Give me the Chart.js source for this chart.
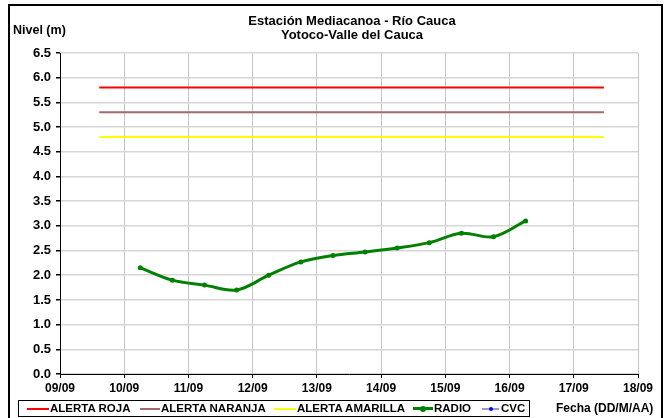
<!DOCTYPE html>
<html>
<head>
<meta charset="utf-8">
<script src="https://cdn.jsdelivr.net/npm/chart.js@4"></script>
<style>
  html, body { margin:0; padding:0; background:#fff; }
  #wrap { position:relative; width:669px; height:418px; overflow:hidden; font-family:"Liberation Sans", Arial, sans-serif; font-weight:bold; color:#000; }
  #c { position:absolute; left:0; top:0; }
  .frame { position:absolute; left:8px; top:4px; width:655px; height:420px; border:2.5px solid #000; box-sizing:border-box; }
  .t { position:absolute; white-space:nowrap; font-size:12px; }
  #legend { position:absolute; left:18px; top:400px; width:512px; height:17px; border:1px solid #000; box-sizing:border-box; background:#fff; }
  .li { position:absolute; top:0; height:15px; line-height:15px; font-size:11.5px; white-space:nowrap; }
  .sw { position:absolute; top:7px; height:2px; }
  .dot { position:absolute; border-radius:50%; }
</style>
</head>
<body>
<div id="wrap">
  <canvas id="c" width="669" height="418"></canvas>
  <div class="frame"></div>
  <div class="t" style="left:0;width:704px;text-align:center;top:13px;font-size:13px;">Estación Mediacanoa - Río Cauca</div>
  <div class="t" style="left:0;width:704px;text-align:center;top:27px;font-size:13px;">Yotoco-Valle del Cauca</div>
  <div class="t" style="left:13px;top:23px;font-size:12.5px;">Nivel (m)</div>
  <div id="legend"></div>
  <div class="t" style="left:556px;top:401px;">Fecha (DD/M/AA)</div>
</div>
<script>
// ---- data ----
const xTickLabels = ['09/09','10/09','11/09','12/09','13/09','14/09','15/09','16/09','17/09','18/09'];
const radioTimes = ['10/09 06:00','10/09 18:00','11/09 06:00','11/09 18:00','12/09 06:00','12/09 18:00','13/09 06:00','13/09 18:00','14/09 06:00','14/09 18:00','15/09 06:00','15/09 18:00','16/09 06:00'];
const radioLevels = [2.15, 1.90, 1.80, 1.70, 2.00, 2.27, 2.40, 2.47, 2.55, 2.66, 2.85, 2.78, 3.10];
const alertTimes = ['09/09 14:40', '17/09 11:15'];
const alertaRoja = 5.8;
const alertaNaranja = 5.3;
const alertaAmarilla = 4.8;
const cvcTimes = [];
const cvcLevels = [];
const seriesNames = ['ALERTA ROJA','ALERTA NARANJA','ALERTA AMARILLA','RADIO','CVC'];

// convert "DD/MM hh:mm" to days after 09/09 00:00
function toDay(s) {
  const [d, t] = s.split(' ');
  const dd = parseInt(d.split('/')[0], 10);
  const [hh, mm] = t.split(':').map(Number);
  return (dd - 9) + hh / 24 + mm / 1440;
}
const alertX = alertTimes.map(toDay);
const flat = v => alertX.map(x => ({ x, y: v }));
const radioPts = radioTimes.map((t, i) => ({ x: toDay(t), y: radioLevels[i] }));
const cvcPts = cvcTimes.map((t, i) => ({ x: toDay(t), y: cvcLevels[i] }));

const colors = ['#ff0000', '#a06a6a', '#ffff00', '#008000', '#0000ff'];

const chart = new Chart(document.getElementById('c'), {
  type: 'line',
  data: {
    datasets: [
      { label: seriesNames[0], data: flat(alertaRoja), borderColor: colors[0], borderWidth: 2, pointRadius: 0 },
      { label: seriesNames[1], data: flat(alertaNaranja), borderColor: colors[1], borderWidth: 2, pointRadius: 0 },
      { label: seriesNames[2], data: flat(alertaAmarilla), borderColor: colors[2], borderWidth: 2, pointRadius: 0 },
      { label: seriesNames[3], data: radioPts, borderColor: colors[3], backgroundColor: colors[3], borderWidth: 3, pointRadius: 2.5, pointBorderWidth: 0, tension: 0.35 },
      { label: seriesNames[4], data: cvcPts, borderColor: '#9a9ad0', backgroundColor: colors[4], borderWidth: 1, pointRadius: 2 }
    ]
  },
  options: {
    responsive: false,
    animation: false,
    layout: { padding: { top: 53, right: 31, left: 0, bottom: 0 } },
    plugins: { legend: { display: false }, title: { display: false }, tooltip: { enabled: false } },
    scales: {
      x: {
        type: 'linear', min: 0, max: 9,
        afterFit: s => { s.height = 44; },
        ticks: {
          stepSize: 1, padding: 3, color: '#000', maxRotation: 0, autoSkip: false,
          font: { family: '"Liberation Sans", Arial, sans-serif', size: 12, weight: 'bold' },
          callback: v => xTickLabels[Math.round(v)]
        },
        grid: { color: '#c4c4c4', lineWidth: 1, tickLength: 4, tickColor: '#000' },
        border: { color: '#000', width: 1 }
      },
      y: {
        min: 0, max: 6.5,
        afterFit: s => { s.width = 60; },
        ticks: {
          stepSize: 0.5, padding: 5, color: '#000',
          font: { family: '"Liberation Sans", Arial, sans-serif', size: 13, weight: 'bold' },
          callback: v => Number(v).toFixed(1)
        },
        grid: { color: '#d6d6d6', lineWidth: 1.5, tickLength: 4, tickColor: '#000' },
        border: { color: '#000', width: 1 }
      }
    }
  }
});

// legend (HTML text)
const legend = document.getElementById('legend');
const items = [
  { sx: 8, sw: 22, tx: 31, c: colors[0] },
  { sx: 121, sw: 20, tx: 142, c: colors[1] },
  { sx: 255, sw: 22, tx: 278, c: colors[2] },
  { sx: 394, sw: 20, tx: 415, c: colors[3], dot: colors[3], dr: 3, thick: 3 },
  { sx: 463, sw: 17, tx: 482, c: '#9a9ad0', dot: colors[4], dr: 2 }
];
items.forEach((it, i) => {
  const s = document.createElement('div');
  s.className = 'sw';
  s.style.left = it.sx + 'px'; s.style.width = it.sw + 'px'; s.style.background = it.c;
  if (it.thick) { s.style.height = it.thick + 'px'; s.style.top = '6px'; }
  legend.appendChild(s);
  if (it.dot) {
    const d = document.createElement('div');
    d.className = 'dot';
    d.style.width = d.style.height = (it.dr * 2) + 'px';
    d.style.left = (it.sx + it.sw / 2 - it.dr) + 'px';
    d.style.top = (7.5 - it.dr) + 'px';
    d.style.background = it.dot;
    legend.appendChild(d);
  }
  const t = document.createElement('div');
  t.className = 'li';
  t.style.left = it.tx + 'px';
  t.textContent = seriesNames[i];
  legend.appendChild(t);
});
</script>
</body>
</html>
